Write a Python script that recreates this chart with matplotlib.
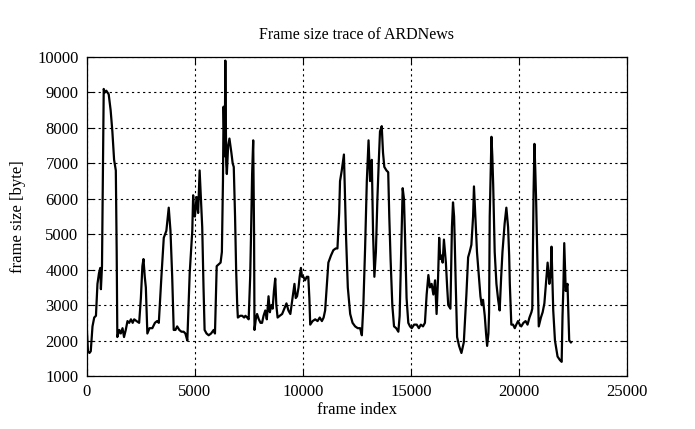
import numpy as np
import matplotlib
matplotlib.use('Agg')
from matplotlib import pyplot as plt

# frame index / frame size (bytes)
frames = [0, 50, 120, 180, 260, 340, 420, 490, 560, 620, 650, 700, 740, 780, 830, 900, 1010, 1100, 1180, 1260,
          1340, 1380, 1410, 1500, 1570, 1650, 1720, 1800, 1880, 1960, 2040, 2120, 2190, 2300, 2420, 2500, 2570,
          2620, 2680, 2730, 2800, 2900, 3030, 3150, 3250, 3330, 3450, 3560, 3680, 3790, 3870, 3950, 4020, 4100,
          4180, 4280, 4380, 4480, 4560, 4650, 4760, 4880, 4920, 4960, 5000, 5080, 5150, 5220, 5280, 5340, 5400,
          5450, 5540, 5640, 5750, 5870, 5930, 6010, 6100, 6190, 6250,
          6300, 6330, 6380, 6410, 6450, 6480, 6540, 6600, 6690, 6750, 6800, 6860, 6910, 6960, 6990, 7100, 7190,
          7280, 7340, 7420, 7490, 7560, 7600, 7650, 7700, 7740, 7760, 7820, 7880, 7960, 8040, 8110, 8180, 8260,
          8330, 8410, 8470, 8540, 8600, 8660, 8720, 8770, 8830, 8930, 9040, 9140, 9240, 9330, 9420, 9520, 9610,
          9670, 9730, 9800, 9850, 9910, 9960, 10020, 10100, 10180, 10250, 10300, 10340, 10450, 10570, 10680,
          10780, 10880, 10960, 11030, 11100, 11180, 11300, 11410, 11520, 11600,
          11680, 11720, 11800, 11900, 11940, 12000, 12080, 12190, 12300, 12420, 12540, 12650, 12730, 12800,
          12880, 12960, 13040, 13080, 13110, 13190, 13250, 13310, 13380, 13450, 13510, 13570, 13650, 13710,
          13770, 13870, 13950, 14000, 14060, 14140, 14220, 14320, 14420, 14480, 14560, 14620, 14680, 14730,
          14800, 14880, 14960, 15040, 15150, 15270, 15370, 15460, 15560, 15650, 15730, 15810, 15880, 15960,
          16040, 16120, 16190, 16260, 16310, 16360, 16420, 16470, 16530, 16620, 16680, 16730, 16830, 16900,
          16950, 17000, 17030, 17080, 17140, 17230, 17340, 17450, 17570, 17650, 17720, 17800, 17880, 17920,
          17960, 18000, 18060, 18110, 18220, 18280, 18340, 18420, 18480, 18530, 18590, 18620, 18650, 18700,
          18730, 18770, 18810, 18880, 18960, 19040, 19110, 19180, 19240, 19340, 19420, 19500, 19550, 19580,
          19650, 19730, 19810, 19880, 19960, 20040, 20110, 20210, 20310, 20400, 20490, 20580, 20620, 20680,
          20720, 20760, 20800, 20850, 20920, 21020, 21100, 21180, 21250, 21330, 21410, 21470, 21510, 21550,
          21590, 21670, 21790, 21900, 21980, 22020, 22060, 22100, 22170, 22250, 22300, 22330, 22410]
sizes = [2300, 1700, 1650, 1700, 2400, 2650, 2700, 3600, 3900, 4050, 3450, 4100, 6500, 9100, 9000, 9050, 8950, 8500,
         7900, 7100, 6800, 4500, 2100, 2300, 2200, 2350, 2100, 2300, 2550, 2500, 2600, 2500, 2600, 2550, 2500,
         3200, 4100, 4300, 3800, 3500, 2200, 2350, 2350, 2500, 2550, 2500, 3800, 4900, 5100, 5750, 5100, 3800,
         2300, 2300, 2400, 2300, 2250, 2250, 2200, 2000, 3900, 5100, 6100, 5600, 5500, 6050, 5600, 6800, 6000,
         5200, 3500, 2300, 2200, 2150, 2200, 2300, 2200, 4100, 4150, 4200, 4500,
         6500, 8600, 7200, 9900, 7000, 6700, 7500, 7700, 7300, 7000, 6900, 5500, 4000, 3000, 2650, 2700, 2700,
         2650, 2700, 2650, 2600, 3800, 5000, 6700, 7650, 5000, 2300, 2600, 2750, 2600, 2500, 2500, 2700, 2850,
         2600, 3250, 2800, 3000, 2900, 3400, 3750, 3000, 2650, 2700, 2750, 2900, 3050, 2850, 2750, 3200, 3600,
         3200, 3250, 3500, 3800, 4050, 3800, 3800, 3700, 3800, 3800, 3200, 2450, 2550, 2600, 2550, 2650, 2550,
         2650, 2850, 3500, 4200, 4400, 4550, 4600, 4600,
         5600, 6500, 6800, 7250, 6300, 4900, 3500, 2750, 2500, 2400, 2350, 2350, 2150, 3000, 4600, 6500, 7650,
         7000, 6500, 7100, 5000, 3800, 4500, 6000, 7000, 7900, 8050, 7300, 6900, 6800, 6750, 5500, 4300, 3000,
         2400, 2350, 2250, 2700, 4800, 6300, 6000, 4900, 3200, 2500, 2400, 2350, 2450, 2450, 2350, 2450, 2400,
         2500, 3300, 3850, 3500, 3600, 3300, 3700, 2750, 3800, 4900, 4300, 4400, 4200, 4850, 4200, 3500, 3000,
         2900, 5200, 5900, 5500, 4800, 3500, 2100, 1850, 1650, 1950, 3300, 4350, 4500, 4700, 5500, 6350, 5800,
         5300, 4500, 4100, 3250, 3000, 3150, 2700, 2200, 1850, 2200, 2800, 5500, 7000, 7750, 7200, 6400, 4500,
         3600, 3150, 2850, 3800, 4500, 5300, 5750, 5200, 4400, 3600, 2450, 2450, 2350, 2450, 2550, 2450, 2400,
         2500, 2550, 2450, 2650, 2800, 2900, 6200, 7550, 6800, 5900, 4500, 2400, 2650, 2800, 3050, 3600, 4200,
         3600, 3900, 4650, 3800, 2850, 2000, 1550, 1450, 1400, 2700, 3500, 4750, 3400, 3600, 2600, 2000, 1950]

xticks = [0, 5000, 10000, 15000, 20000, 25000]
yticks = [1000, 2000, 3000, 4000, 5000, 6000, 7000, 8000, 9000, 10000]

plt.rcParams['font.family'] = ['Liberation Serif', 'DejaVu Serif']

fig = plt.figure(figsize=(6.95, 4.29), dpi=100)
ax = fig.add_axes([0.125, 0.1235, 0.777, 0.7435])

ax.plot(frames, sizes, color='black', linewidth=1.6)

ax.set_xlim(0, 25000)
ax.set_ylim(1000, 10000)
ax.set_xticks(xticks)
ax.set_yticks(yticks)
ax.tick_params(direction='in', top=True, right=True, length=5, labelsize=12, pad=6)
ax.grid(True, color='black', linestyle=(0, (2, 3)), linewidth=0.8)
for s in ax.spines.values():
    s.set_linewidth(0.9)

ax.set_title('Frame size trace of ARDNews', fontsize=11.5, pad=13)
ax.set_xlabel('frame index', fontsize=12, labelpad=1)
ax.set_ylabel('frame size [byte]', fontsize=12, labelpad=8)

fig.savefig('out.png', dpi=100)
